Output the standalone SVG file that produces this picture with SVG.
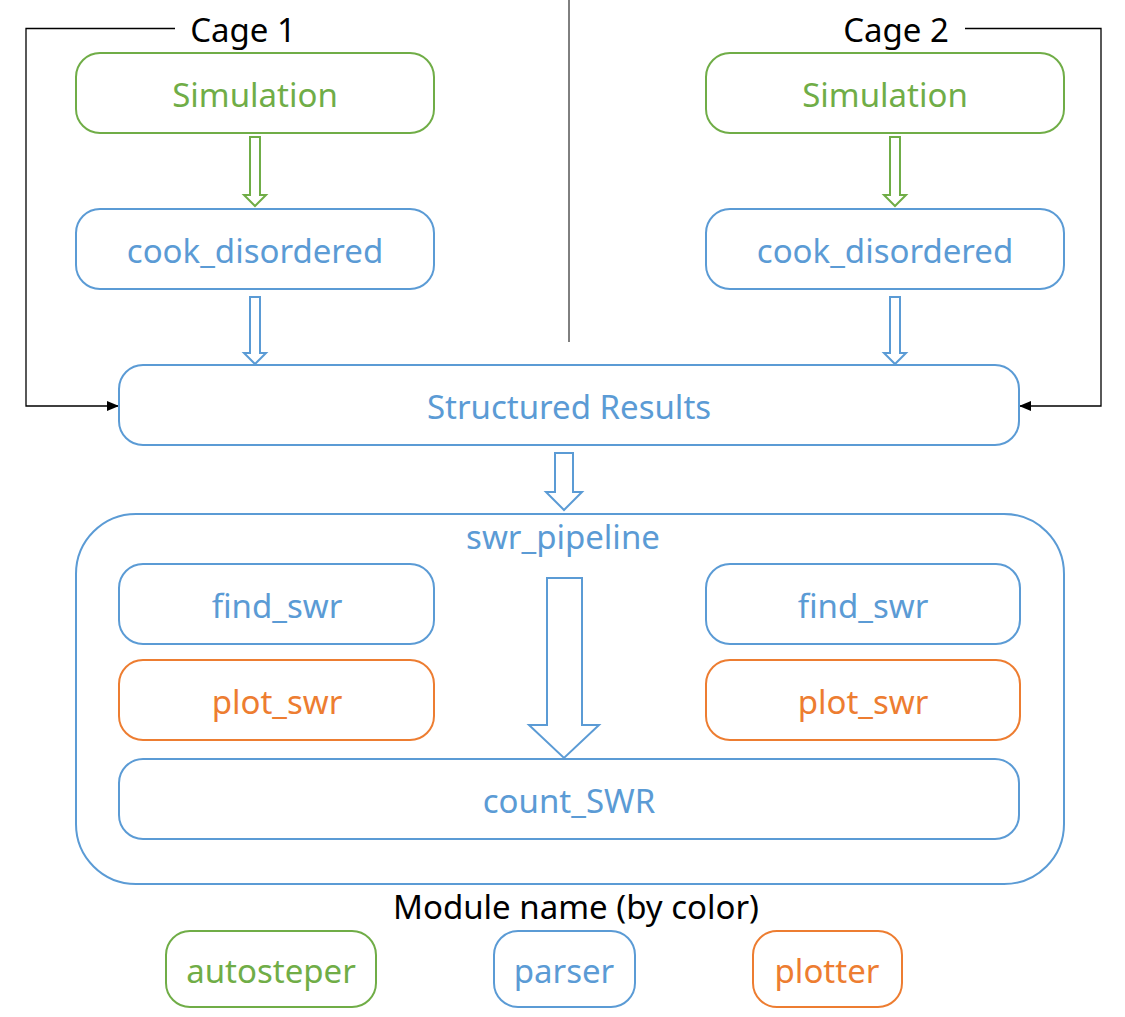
<svg xmlns="http://www.w3.org/2000/svg" width="1125" height="1017" viewBox="0 0 1125 1017">
<defs>
<style>
text{font-family:"Noto Sans","Liberation Sans",sans-serif;font-size:33px;text-anchor:middle}
.box{fill:#fff;stroke-width:2}
.g{stroke:#70AD47}.b{stroke:#5B9BD5}.o{stroke:#ED7D31}
.tg{fill:#70AD47}.tb{fill:#5B9BD5}.to{fill:#ED7D31}.tk{fill:#000}
.fat{fill:#fff;stroke-width:2;stroke-linejoin:miter}
.line{fill:none;stroke:#000;stroke-width:1.3}
</style>
<marker id="ah" viewBox="0 0 12 10" refX="12" refY="5" markerWidth="12" markerHeight="10" markerUnits="userSpaceOnUse" orient="auto">
<path d="M0,0 L12,5 L0,10 Z" fill="#000"/>
</marker>
</defs>
<rect width="1125" height="1017" fill="#fff"/>

<g id="connectors">
<polyline class="line" points="175,28.5 26,28.5 26,406 119,406" marker-end="url(#ah)"/>
<polyline class="line" points="965,28.5 1101,28.5 1101,406 1019,406" marker-end="url(#ah)"/>
<line x1="569" y1="0" x2="569" y2="342" stroke="#000" stroke-width="1"/>
<polygon class="fat g" points="250,137 260,137 260,195 266,195 255,206 244,195 250,195"/>
<polygon class="fat b" points="250,297 260,297 260,353 266,353 255,364 244,353 250,353"/>
<polygon class="fat g" points="890,137 900,137 900,195 906,195 895,206 884,195 890,195"/>
<polygon class="fat b" points="890,297 900,297 900,353 906,353 895,364 884,353 890,353"/>
<polygon class="fat b" points="555,453 573,453 573,492 582,492 564,510 546,492 555,492"/>
<polygon class="fat b" points="547,578 582,578 582,725 599,725 564,758 529,725 547,725"/>
</g>

<g id="cage1-label"><text class="tk" x="243" y="42">Cage 1</text></g>
<g id="cage2-label"><text class="tk" x="896" y="42">Cage 2</text></g>

<g id="sim1"><rect class="box g" x="76" y="53" width="358" height="80" rx="24"/><text class="tg" x="255" y="107">Simulation</text></g>
<g id="cook1"><rect class="box b" x="76" y="209" width="358" height="80" rx="24"/><text class="tb" x="255" y="263">cook_disordered</text></g>
<g id="sim2"><rect class="box g" x="706" y="53" width="358" height="80" rx="24"/><text class="tg" x="885" y="107">Simulation</text></g>
<g id="cook2"><rect class="box b" x="706" y="209" width="358" height="80" rx="24"/><text class="tb" x="885" y="263">cook_disordered</text></g>

<g id="structured"><rect class="box b" x="119" y="365" width="900" height="80" rx="24"/><text class="tb" x="569" y="419">Structured Results</text></g>

<g id="swr_pipeline"><rect class="box b" x="76" y="514" width="988" height="370" rx="60" style="fill:none"/><text class="tb" x="563" y="549">swr_pipeline</text></g>

<g id="find1"><rect class="box b" x="119" y="564" width="315" height="80" rx="24"/><text class="tb" x="277" y="618">find_swr</text></g>
<g id="plot1"><rect class="box o" x="119" y="660" width="315" height="80" rx="24"/><text class="to" x="277" y="714">plot_swr</text></g>
<g id="find2"><rect class="box b" x="706" y="564" width="314" height="80" rx="24"/><text class="tb" x="863" y="618">find_swr</text></g>
<g id="plot2"><rect class="box o" x="706" y="660" width="314" height="80" rx="24"/><text class="to" x="863" y="714">plot_swr</text></g>
<g id="count"><rect class="box b" x="119" y="759" width="900" height="80" rx="24"/><text class="tb" x="569" y="813">count_SWR</text></g>

<g id="legend-title"><text class="tk" x="576" y="919">Module name (by color)</text></g>
<g id="legend-autosteper"><rect class="box g" x="166" y="931" width="210" height="76" rx="24"/><text class="tg" x="271" y="983">autosteper</text></g>
<g id="legend-parser"><rect class="box b" x="494" y="931" width="141" height="76" rx="24"/><text class="tb" x="564" y="983">parser</text></g>
<g id="legend-plotter"><rect class="box o" x="753" y="931" width="149" height="76" rx="24"/><text class="to" x="827" y="983">plotter</text></g>
</svg>
